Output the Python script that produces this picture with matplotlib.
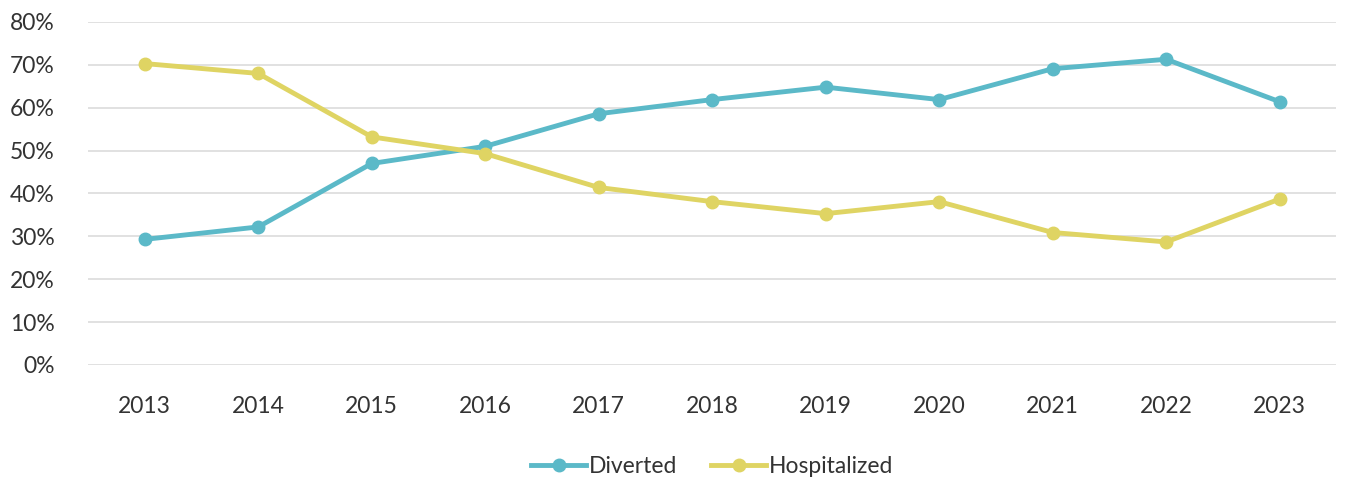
import matplotlib.pyplot as plt
from matplotlib.ticker import PercentFormatter

# Datos
years = ['2013', '2014', '2015', '2016', '2017', '2018', '2019', '2020', '2021', '2022', '2023']
diverted = [29.3, 32.2, 47.0, 51.0, 58.6, 61.9, 64.8, 61.9, 69.1, 71.3, 61.4]
hospitalized = [70.3, 68.0, 53.2, 49.3, 41.4, 38.1, 35.3, 38.1, 30.9, 28.7, 38.7]

plt.rcParams['font.family'] = ['Lato', 'DejaVu Sans']

fig = plt.figure(figsize=(13.54, 4.8), dpi=100)
ax = fig.add_axes([0.065, 0.2396, 0.922, 0.7146])

x = range(len(years))
ax.plot(x, diverted, color='#5BB9C8', lw=3.5, marker='o', ms=9, label='Diverted')
ax.plot(x, hospitalized, color='#DFD463', lw=3.5, marker='o', ms=9, label='Hospitalized')

ax.set_ylim(0, 80)
ax.set_xlim(-0.5, len(years) - 0.5)
ax.set_yticks(range(0, 81, 10))
ax.yaxis.set_major_formatter(PercentFormatter(decimals=0))
ax.set_xticks(list(x))
ax.set_xticklabels(years)
ax.tick_params(length=0, labelsize=16.5, labelcolor='#333333')
ax.tick_params(axis='x', pad=22)
ax.tick_params(axis='y', pad=24)
ax.grid(axis='y', color='#DEDEDE', lw=1.3)
ax.set_axisbelow(True)
for s in ax.spines.values():
    s.set_visible(False)

ax.legend(loc='upper center', bbox_to_anchor=(0.5, -0.205), ncol=2, frameon=False,
          fontsize=16.5, handlelength=2.4, handletextpad=0.1, columnspacing=1.5, labelcolor='#333333')

fig.savefig('out.png', dpi=100)
